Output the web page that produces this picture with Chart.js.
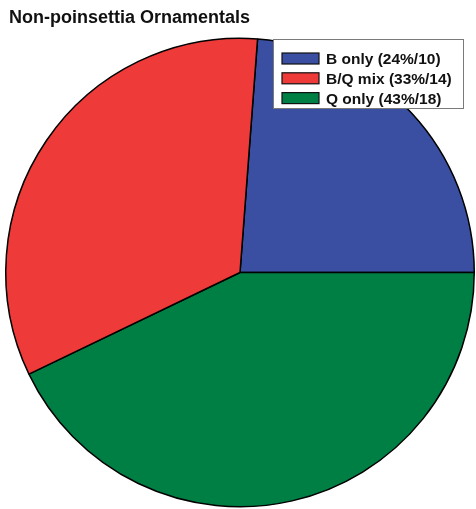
<!DOCTYPE html>
<html>
<head>
<meta charset="utf-8">
<script src="https://cdn.jsdelivr.net/npm/chart.js@4/dist/chart.umd.min.js"></script>
<style>
    html, body { margin: 0; padding: 0; background: #fff; overflow: hidden; }
    #wrap { position: relative; width: 476px; height: 509px; }
</style>
</head>
<body>
<div id="wrap"><canvas id="pie"></canvas></div>
<script>
// Data (legend order)
const title = 'Non-poinsettia Ornamentals';
const categories = ['B only (24%/10)', 'B/Q mix (33%/14)', 'Q only (43%/18)'];
const counts = [10, 14, 18];
const colors = ['#3a4fa1', '#ee3a39', '#007f45'];

// slices go clockwise as blue, green, red
const drawOrder = [0, 2, 1];


/**
 * Title + boxed legend drawn on top of the pie
 */
const overlay = {
    id: 'overlay',
    afterDraw(chart) {

        const ctx = chart.ctx;
        ctx.save();

        ctx.fillStyle = '#111';
        ctx.font = 'bold 18px "Liberation Sans", Arial, sans-serif';
        ctx.textBaseline = 'alphabetic';
        ctx.fillText(title, 9, 23);

        // legend frame
        ctx.fillStyle = '#fff';
        ctx.fillRect(273, 39, 190, 69);
        ctx.strokeStyle = '#7a7a7a';
        ctx.lineWidth = 1;
        ctx.strokeRect(273.5, 39.5, 190, 69);

        ctx.font = 'bold 15.5px "Liberation Sans", Arial, sans-serif';
        categories.forEach((label, i) => {
            const cy = 58.5 + i * 19.8;
            ctx.fillStyle = colors[i];
            ctx.fillRect(282, cy - 5.5, 37, 11);
            ctx.strokeStyle = '#111';
            ctx.lineWidth = 1.2;
            ctx.strokeRect(282, cy - 5.5, 37, 11);
            ctx.fillStyle = '#111';
            ctx.fillText(label, 326, cy + 5.6);
        });

        ctx.restore();

    }
};


new Chart(document.getElementById('pie'), {
    type: 'pie',
    data: {
        labels: drawOrder.map(i => categories[i]),
        datasets: [{
            data: drawOrder.map(i => counts[i]),
            backgroundColor: drawOrder.map(i => colors[i]),
            borderColor: '#000',
            borderWidth: 1.5
        }]
    },
    options: {
        responsive: true,
        maintainAspectRatio: false,
        animation: false,
        rotation: 4.3,
        layout: {
            padding: { top: 37, left: 5, right: 1, bottom: 1 }
        },
        plugins: {
            legend: { display: false },
            title: { display: false },
            tooltip: { enabled: false }
        }
    },
    plugins: [overlay]
});
</script>
</body>
</html>
